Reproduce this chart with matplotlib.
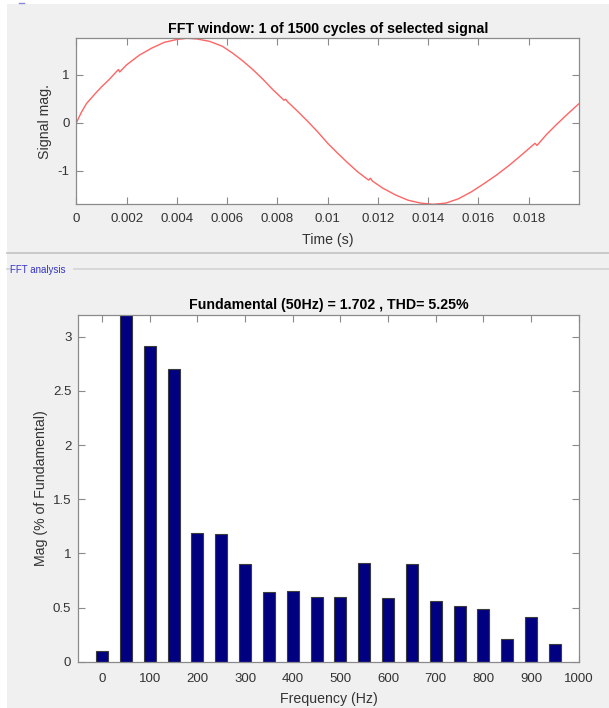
import matplotlib
matplotlib.use("Agg")
import matplotlib.pyplot as plt
from matplotlib.patches import Rectangle
from matplotlib.lines import Line2D

plt.rcParams['font.family'] = ['Liberation Sans', 'DejaVu Sans']

# ---------------- data ----------------
# signal samples (time in s, magnitude)
sig_t = [0.0000, 0.0002, 0.0004, 0.0007, 0.0010, 0.0013, 0.00163, 0.00168, 0.00172,
         0.0020, 0.0025, 0.0030, 0.0035, 0.0040, 0.0044, 0.0048, 0.0053, 0.0058,
         0.0062, 0.0066, 0.0070, 0.0074, 0.0078, 0.00826, 0.00833, 0.00840,
         0.0088, 0.0092, 0.0096, 0.0100, 0.0104, 0.0108, 0.0112, 0.01163, 0.01170,
         0.01178, 0.0122, 0.0127, 0.0132, 0.0137, 0.0142, 0.0147, 0.0152, 0.0157,
         0.0162, 0.0167, 0.0172, 0.0177, 0.01825, 0.01833, 0.0187, 0.0191, 0.0195,
         0.01998]
sig_v = [0.00, 0.22, 0.40, 0.58, 0.75, 0.90, 1.09, 1.11, 1.06,
         1.21, 1.41, 1.56, 1.68, 1.74, 1.764, 1.75, 1.70, 1.60,
         1.46, 1.30, 1.12, 0.92, 0.70, 0.47, 0.49, 0.44,
         0.24, 0.03, -0.19, -0.43, -0.64, -0.84, -1.03, -1.20, -1.16,
         -1.22, -1.37, -1.51, -1.62, -1.68, -1.705, -1.68, -1.59, -1.45,
         -1.28, -1.10, -0.90, -0.68, -0.43, -0.475, -0.25, -0.04, 0.16,
         0.39]

# FFT harmonic magnitudes (% of fundamental)
freqs = [0, 50, 100, 150, 200, 250, 300, 350, 400, 450,
         500, 550, 600, 650, 700, 750, 800, 850, 900, 950]
mags = [0.10, 100.0, 2.91, 2.70, 1.19, 1.18, 0.90, 0.64, 0.655, 0.595,
        0.595, 0.91, 0.585, 0.90, 0.56, 0.51, 0.49, 0.21, 0.415, 0.165]

time_ticks = [0, 0.002, 0.004, 0.006, 0.008, 0.01, 0.012, 0.014, 0.016, 0.018]
time_labels = ['0', '0.002', '0.004', '0.006', '0.008', '0.01', '0.012', '0.014', '0.016', '0.018']
sig_yticks = [-1, 0, 1]
freq_ticks = [0, 100, 200, 300, 400, 500, 600, 700, 800, 900, 1000]
mag_yticks = [0, 0.5, 1, 1.5, 2, 2.5, 3]
mag_ylabels = ['0', '0.5', '1', '1.5', '2', '2.5', '3']

title_top = 'FFT window: 1 of 1500 cycles of selected signal'
title_bot = 'Fundamental (50Hz) = 1.702 , THD= 5.25%'

# ---------------- figure ----------------
W, H = 609, 708
fig = plt.figure(figsize=(W / 100, H / 100), dpi=100)
fig.patch.set_facecolor('white')

def fx(px):
    return px / W

def fy(py):
    return 1 - py / H

fig.add_artist(Rectangle((fx(7), 0), 1, fy(4), transform=fig.transFigure,
                         facecolor='#f0f0f0', edgecolor='none', zorder=0))
fig.add_artist(Line2D([fx(19), fx(24)], [fy(3), fy(3)], transform=fig.transFigure,
                      color='#8888dd', lw=1.0))
fig.add_artist(Line2D([fx(7), 1], [fy(253), fy(253)], transform=fig.transFigure,
                      color='#c6c6c6', lw=1.3))
fig.add_artist(Line2D([fx(7), fx(10)], [fy(269), fy(269)], transform=fig.transFigure,
                      color='#d6d6d6', lw=1.3))
fig.add_artist(Line2D([fx(74), 1], [fy(269), fy(269)], transform=fig.transFigure,
                      color='#d6d6d6', lw=1.3))
fig.text(fx(10), fy(270), 'FFT analysis', color='#3535c8', fontsize=7,
         va='center', ha='left')

SPINE = '#8a8a8a'
TICKC = '#333333'

def style(ax, xpad):
    ax.set_facecolor('white')
    for s in ax.spines.values():
        s.set_color(SPINE)
        s.set_linewidth(0.9)
    ax.tick_params(direction='in', top=True, right=True, length=5, width=0.8,
                   color=SPINE, labelcolor=TICKC, labelsize=9.5)
    ax.tick_params(axis='x', pad=xpad)
    ax.tick_params(axis='y', pad=5)

# top axes
ax1 = fig.add_axes([fx(76.4), fy(204.3), fx(579) - fx(76.4), fy(38.3) - fy(204.3)])
style(ax1, 6)
ax1.plot(sig_t, sig_v, color='#ff6464', lw=1.0)
ax1.set_xlim(0, 0.02)
ax1.set_ylim(min(sig_v), max(sig_v))
ax1.set_xticks(time_ticks)
ax1.set_xticklabels(time_labels)
ax1.set_yticks(sig_yticks)
ax1.set_yticklabels(['-1', '0', '1'])
ax1.set_title(title_top, fontsize=10.2, fontweight='bold', pad=4)
ax1.set_xlabel('Time (s)', fontsize=10.2, color=TICKC, labelpad=6)
ax1.set_ylabel('Signal mag.', fontsize=10.2, color=TICKC)
ax1.yaxis.set_label_coords(-0.0486, 0.5)

# bottom axes
ax2 = fig.add_axes([fx(78.3), fy(661.7), fx(578.7) - fx(78.3), fy(315) - fy(661.7)])
style(ax2, 8)
ax2.set_axisbelow(True)
ax2.bar(freqs, mags, width=25, color='#000080', edgecolor='#3c3c3c', linewidth=0.8)
ax2.set_xlim(-50, 1000)
ax2.set_ylim(0, 3.2)
ax2.set_xticks(freq_ticks)
ax2.set_yticks(mag_yticks)
ax2.set_yticklabels(mag_ylabels)
ax2.set_title(title_bot, fontsize=10.2, fontweight='bold', pad=4)
ax2.set_xlabel('Frequency (Hz)', fontsize=10.2, color=TICKC, labelpad=5)
ax2.set_ylabel('Mag (% of Fundamental)', fontsize=10.2, color=TICKC)
ax2.yaxis.set_label_coords(-0.0606, 0.5)

fig.savefig('out.png', dpi=100, facecolor=fig.get_facecolor())
